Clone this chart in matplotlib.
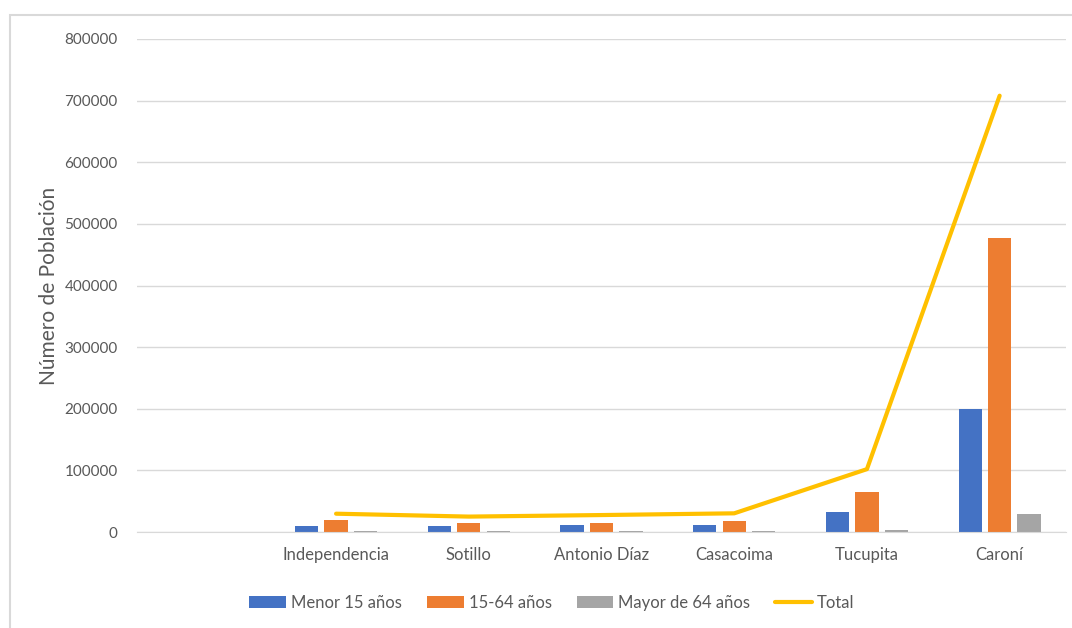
import numpy as np
import matplotlib.pyplot as plt
import matplotlib.patches as patches

# population by municipality and age group
municipios = ['', 'Independencia', 'Sotillo', 'Antonio Díaz', 'Casacoima', 'Tucupita', 'Caroní']
menor_15 = [0, 9700, 9200, 11300, 11300, 33000, 199000]
de_15_64 = [0, 19500, 14000, 14000, 17800, 64500, 477000]
mayor_64 = [0, 2000, 1500, 1500, 1500, 3500, 29700]
total = [None, 29700, 25000, 27500, 30300, 102000, 708000]

plt.rcParams['font.family'] = ['Lato', 'DejaVu Sans']
txt_col = '#595959'

fig = plt.figure(figsize=(10.72, 6.28), dpi=100)
ax = fig.add_axes([137/1072, (628-532)/628, (1066-137)/1072, (532-39)/628])

x = np.arange(len(municipios))
w = 0.175
off = 0.222
b1 = ax.bar(x - off, menor_15, w, color='#4472C4', label='Menor 15 años', zorder=2)
b2 = ax.bar(x, de_15_64, w, color='#ED7D31', label='15-64 años', zorder=2)
b3 = ax.bar(x + off, mayor_64, w, color='#A5A5A5', label='Mayor de 64 años', zorder=2)

tx = [i for i, t in zip(x, total) if t is not None]
ty = [t for t in total if t is not None]
ln, = ax.plot(tx, ty, color='#FFC000', lw=3, label='Total', zorder=3, solid_capstyle='round')

ax.set_xlim(-0.5, len(municipios) - 0.5)
ax.set_ylim(0, 800000)
ax.set_yticks(np.arange(0, 800001, 100000))
ax.set_xticks(x)
ax.set_xticklabels(municipios, fontsize=12)
ax.grid(axis='y', color='#D9D9D9', lw=1, zorder=0)
for s in ['top', 'right', 'left']:
    ax.spines[s].set_visible(False)
ax.spines['bottom'].set_color('#D9D9D9')
ax.tick_params(length=0, labelsize=11, colors=txt_col)
ax.tick_params(axis='x', pad=11, labelsize=12)
ax.tick_params(axis='y', pad=14)
ax.set_ylabel('Número de Población', fontsize=15, color=txt_col, labelpad=4)

leg = fig.legend([b1, b2, b3, ln], ['Menor 15 años', '15-64 años', 'Mayor de 64 años', 'Total'],
                 loc='center', bbox_to_anchor=(552/1072, 1 - 603/628), ncol=4, frameon=False,
                 fontsize=12, handlelength=2.2, handleheight=0.7, columnspacing=1.5,
                 handletextpad=0.3)
for t in leg.get_texts():
    t.set_color(txt_col)

# chart frame
fig.patches.append(patches.Rectangle((10/1072, -0.1), 1.2, 1 - 15/628 + 0.1,
                                     transform=fig.transFigure, fill=False,
                                     edgecolor='#D9D9D9', lw=1.5))

fig.savefig('out.png', dpi=100)
